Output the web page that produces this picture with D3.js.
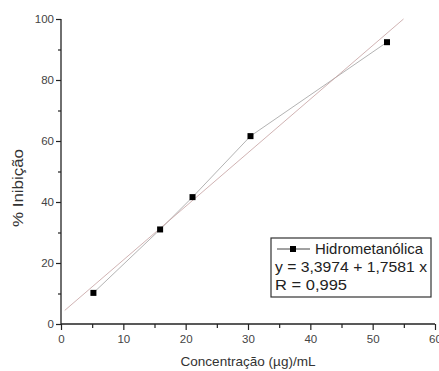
<!DOCTYPE html>
<html><head><meta charset="utf-8">
<script src="https://cdn.jsdelivr.net/npm/d3@7"></script>
<style>body{margin:0;background:#fff}svg{display:block}</style>
</head><body>
<svg id="c" width="439" height="371"></svg>
<script>
const concentration = [5.2, 15.9, 21.1, 30.4, 52.3];
const inhibition = [10.2, 31.0, 41.6, 61.6, 92.4];
const fitIntercept = 3.3974, fitSlope = 1.7581;
const fitRange = [0.6, 54.95];
const xTicks = [0, 10, 20, 30, 40, 50, 60];
const yTicks = [0, 20, 40, 60, 80, 100];
const legendLines = ["Hidrometanólica", "y = 3,3974 + 1,7581 x", "R = 0,995"];

const svg = d3.select("#c");
const x = d3.scaleLinear().domain([0, 60]).range([61, 435]);
const y = d3.scaleLinear().domain([0, 100]).range([324, 19]);
const font = "Arial, 'Liberation Sans', sans-serif";

// connecting line
const pts = concentration.map((c, i) => [c, inhibition[i]]);
svg.append("path").datum(pts)
  .attr("d", d3.line().x(d => x(d[0])).y(d => y(d[1])))
  .attr("fill", "none").attr("stroke", "#a0a0a0").attr("stroke-width", 0.8);
// fit line
svg.append("path").datum(fitRange.map(v => [v, fitIntercept + fitSlope * v]))
  .attr("d", d3.line().x(d => x(d[0])).y(d => y(d[1])))
  .attr("fill", "none").attr("stroke", "#c4a0a0").attr("stroke-width", 0.8);

// markers
svg.selectAll("rect.pt").data(pts).enter().append("rect")
  .attr("x", d => x(d[0]) - 3).attr("y", d => y(d[1]) - 3)
  .attr("width", 6).attr("height", 6).attr("fill", "#000");

// axes
const xAxis = d3.axisBottom(x).tickValues(d3.range(0, 61, 5)).tickSize(4)
  .tickFormat(d => xTicks.includes(d) ? d : "");
const gx = svg.append("g").attr("transform", "translate(0,324)").call(xAxis);
gx.selectAll(".tick line").attr("y2", d => xTicks.includes(d) ? 6 : 4);
const yAxis = d3.axisLeft(y).tickValues(d3.range(0, 101, 10)).tickSize(4)
  .tickFormat(d => yTicks.includes(d) ? d : "");
const gy = svg.append("g").attr("transform", "translate(61,0)").call(yAxis);
gy.selectAll(".tick line").attr("x2", d => yTicks.includes(d) ? -5 : -3);
[gx, gy].forEach(g => {
  g.select(".domain").attr("stroke", "#222").attr("stroke-width", 1.3);
  g.selectAll(".tick line").attr("stroke", "#222").attr("stroke-width", 1.2);
  g.selectAll(".tick text").attr("fill", "#444").style("font-family", font).style("font-size", "11.5px");
});
gx.select(".domain").attr("d", "M61,0H435");
gy.select(".domain").attr("d", "M0,324V19");
gx.selectAll(".tick text").attr("dy", "1.05em");
gy.selectAll(".tick text").attr("x", -7);

// axis labels
svg.append("text").attr("x", 248).attr("y", 366).attr("text-anchor", "middle")
  .attr("fill", "#333").style("font-family", font).style("font-size", "13.5px")
  .attr("textLength", 135).attr("lengthAdjust", "spacingAndGlyphs")
  .text("Concentração (µg)/mL");
svg.append("text").attr("transform", "translate(23,188) rotate(-90)").attr("text-anchor", "middle")
  .attr("fill", "#333").style("font-family", font).style("font-size", "14px")
  .attr("textLength", 78).attr("lengthAdjust", "spacingAndGlyphs")
  .text("% Inibição");

// legend
const lg = svg.append("g");
lg.append("rect").attr("x", 271).attr("y", 238).attr("width", 160).attr("height", 59)
  .attr("fill", "#fff").attr("stroke", "#333").attr("stroke-width", 1.2);
lg.append("line").attr("x1", 277).attr("x2", 310).attr("y1", 249).attr("y2", 249)
  .attr("stroke", "#444").attr("stroke-width", 1);
lg.append("rect").attr("x", 290).attr("y", 246).attr("width", 6).attr("height", 6).attr("fill", "#000");
lg.append("text").attr("x", 315).attr("y", 254).attr("textLength", 108).text(legendLines[0]);
lg.append("text").attr("x", 275).attr("y", 272).attr("textLength", 152).text(legendLines[1]);
lg.append("text").attr("x", 275).attr("y", 290).attr("textLength", 72).text(legendLines[2]);
lg.selectAll("text").attr("fill", "#222").attr("lengthAdjust", "spacingAndGlyphs")
  .style("font-family", font).style("font-size", "15px");
</script>
</body></html>
